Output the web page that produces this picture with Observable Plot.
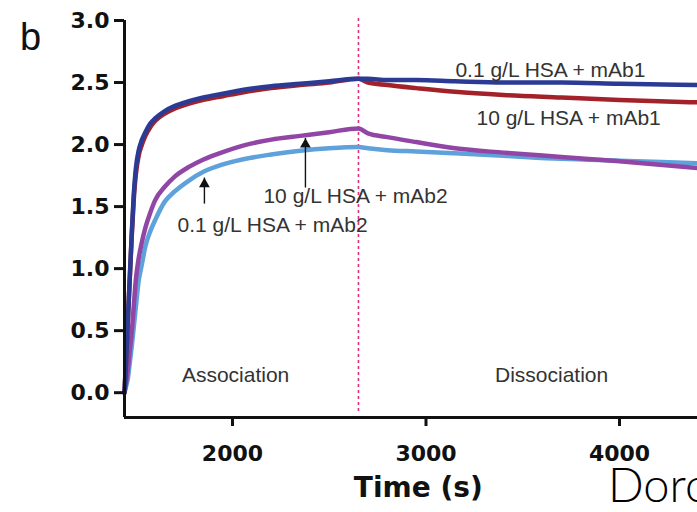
<!DOCTYPE html>
<html>
<head>
<meta charset="utf-8">
<script src="https://cdn.jsdelivr.net/npm/d3@7"></script>
<script src="https://cdn.jsdelivr.net/npm/@observablehq/plot@0.6"></script>
<style>
  html, body { margin: 0; padding: 0; background: #fff; overflow: hidden; }
  #wrap { position: relative; width: 697px; height: 512px; overflow: hidden; font-family: "Liberation Sans", Arial, sans-serif; }
  #panel { position: absolute; left: 20px; top: 18px; font-size: 38px; line-height: 1; color: #111; font-family: "Liberation Sans", Arial, sans-serif; }
  #mark { position: absolute; left: 608px; top: 466px; font-size: 47px; line-height: 0.8; color: #000; font-family: Lato, "Open Sans", sans-serif; font-weight: 300; white-space: nowrap; }
</style>
</head>
<body>
<div id="wrap">
  <div id="chart"></div>
  <div id="panel">b</div>
  <div id="mark">Dorc</div>
</div>
<script>
// Time grid (s)
const times = [1442, 1450, 1460, 1470, 1480, 1490, 1500, 1515, 1530, 1550, 1575, 1600, 1650, 1700, 1775, 1850, 1950, 2050, 2200, 2350, 2500, 2651, 2700, 2800, 2950, 3150, 3400, 3700, 4000, 4403];

// Series values (response)
const hsa01_mAb1 = [0, 0.25, 0.6, 0.95, 1.3, 1.6, 1.8, 1.95, 2.03, 2.1, 2.17, 2.21, 2.27, 2.31, 2.35, 2.38, 2.41, 2.44, 2.47, 2.49, 2.51, 2.53, 2.53, 2.52, 2.52, 2.51, 2.5, 2.5, 2.49, 2.48];
const hsa10_mAb1 = [0, 0.27, 0.61, 0.95, 1.28, 1.56, 1.75, 1.91, 1.99, 2.07, 2.14, 2.19, 2.25, 2.29, 2.33, 2.36, 2.39, 2.42, 2.455, 2.48, 2.5, 2.53, 2.5, 2.48, 2.455, 2.425, 2.4, 2.38, 2.36, 2.34];
const hsa10_mAb2 = [0, 0.08, 0.2, 0.35, 0.5, 0.7, 0.9, 1.08, 1.2, 1.33, 1.45, 1.55, 1.66, 1.74, 1.82, 1.88, 1.94, 1.99, 2.04, 2.07, 2.1, 2.13, 2.09, 2.06, 2.02, 1.97, 1.935, 1.9, 1.865, 1.81];
const hsa01_mAb2 = [0, 0.05, 0.12, 0.25, 0.38, 0.53, 0.68, 0.9, 1.02, 1.18, 1.3, 1.39, 1.54, 1.62, 1.71, 1.78, 1.84, 1.88, 1.92, 1.95, 1.97, 1.98, 1.97, 1.955, 1.945, 1.93, 1.91, 1.885, 1.87, 1.85];

const seriesNames = ["0.1 g/L HSA + mAb2", "10 g/L HSA + mAb2", "10 g/L HSA + mAb1", "0.1 g/L HSA + mAb1"];
const seriesValues = [hsa01_mAb2, hsa10_mAb2, hsa10_mAb1, hsa01_mAb1];
const seriesColors = ["#5fa1db", "#9146a6", "#a3222a", "#2b3a94"];

const xTicks = [2000, 3000, 4000];
const yTicks = [0, 0.5, 1.0, 1.5, 2.0, 2.5, 3.0];
const dissociationStart = 2651;

// Annotations
const labelTexts = ["0.1 g/L HSA + mAb1", "10 g/L HSA + mAb1", "10 g/L HSA + mAb2", "0.1 g/L HSA + mAb2", "Association", "Dissociation"];
const labelTimes = [3643, 3737, 2636, 2207, 2016, 3649];
const labelValues = [2.6, 2.21, 1.585, 1.35, 0.14, 0.14];

const arrowTimes = [2377, 1855];
const arrowFrom = [1.65, 1.52];
const arrowTo = [2.05, 1.73];

const rows = seriesNames.flatMap((name, s) => times.map((t, i) => ({t, v: seriesValues[s][i], name})));
const labels = labelTexts.map((text, i) => ({text, t: labelTimes[i], v: labelValues[i]}));
const arrows = arrowTimes.map((t, i) => ({t, from: arrowFrom[i], to: arrowTo[i]}));

const axisFont = {fontSize: 22, fontWeight: "bold", fontFamily: "DejaVu Sans"};

const chart = Plot.plot({
  width: 697,
  height: 512,
  marginLeft: 124,
  marginRight: 0,
  marginTop: 20,
  marginBottom: 95,
  style: {fontFamily: "Liberation Sans, Arial, sans-serif", background: "#fff", color: "#111"},
  x: {domain: [1442, 4403]},
  y: {domain: [-0.2, 3.0]},
  color: {domain: seriesNames, range: seriesColors},
  marks: [
    Plot.ruleX([dissociationStart], {y1: 3.016, y2: -0.16, stroke: "#e0307f", strokeWidth: 1.6, strokeDasharray: "3,3"}),
    Plot.line(rows, {x: "t", y: "v", z: "name", stroke: "name", strokeWidth: 4.5, curve: "monotone-x"}),
    Plot.ruleX(arrows, {x: "t", y1: "from", y2: "to", stroke: "#111", strokeWidth: 1.4}),
    Plot.dot(arrows, {x: "t", y: "to", symbol: "triangle", r: 4, fill: "#111", stroke: "none", dy: 6}),
    Plot.text(labels, {x: "t", y: "v", text: "text", fontSize: 21, fill: "#333", fontFamily: "Liberation Sans, Arial, sans-serif"}),
    Plot.axisY({ticks: yTicks, tickFormat: d3.format(".1f"), tickSize: 10, tickPadding: 5, strokeWidth: 3, label: null, ...axisFont, fill: "#111"}),
    Plot.axisX({ticks: xTicks, tickFormat: d => String(d), tickSize: 9, tickPadding: 19, strokeWidth: 3, label: null, ...axisFont, fill: "#111"}),
    Plot.ruleX([1442], {y1: -0.2, y2: 3.0, stroke: "#111", strokeWidth: 3}),
    Plot.ruleY([-0.2], {stroke: "#111", strokeWidth: 3}),
    Plot.text(["Time (s)"], {x: 2960, frameAnchor: "bottom", dy: 79, fontSize: 28, fontWeight: "bold", fontFamily: "DejaVu Sans", fill: "#111"})
  ]
});
document.getElementById("chart").appendChild(chart);
</script>
</body>
</html>
